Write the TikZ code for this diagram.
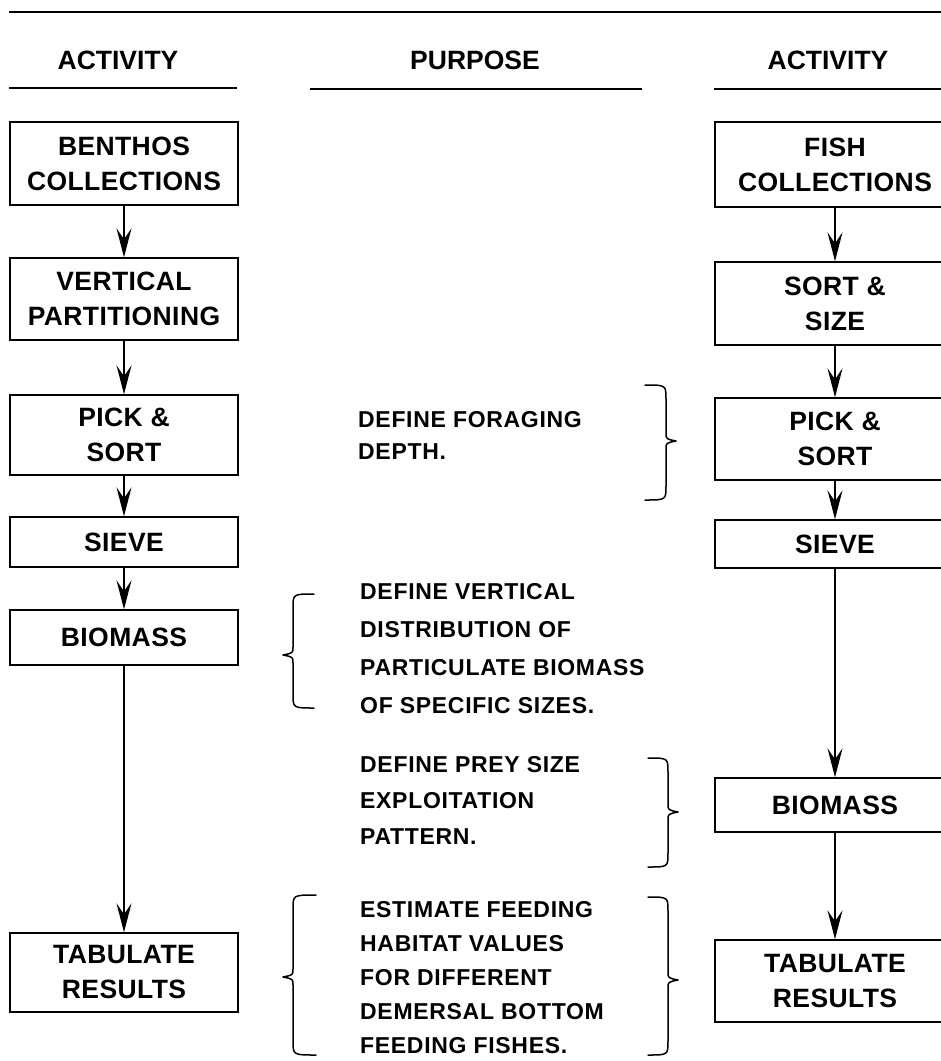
\documentclass[tikz,border=0pt]{standalone}
\usepackage{fontspec}
\setmainfont{Liberation Sans}
\newfontfamily\purposefont[LetterSpace=3]{Liberation Sans}
\newfontfamily\boxfont[LetterSpace=1.5]{Liberation Sans}
\usetikzlibrary{arrows.meta}
\newcommand\bracemark[6]{%
  \draw[brc] (#1,#4) .. controls (#2,#4) .. (#2,{#4+14}) -- (#2,{#6-8})
    .. controls (#2,{#6-2}) .. (#3,#6) .. controls (#2,{#6+2}) .. (#2,{#6+8})
    -- (#2,{#5-14}) .. controls (#2,#5) .. (#1,#5);}
\begin{document}
\begin{tikzpicture}[x=1pt,y=-1pt,
  box/.style={draw, line width=1.4pt, inner sep=0pt, align=center, font=\boxfont\bfseries\fontsize{26.5}{35}\selectfont},
  arr/.style={line width=1.4pt, -{Stealth[length=29pt,width=15pt,inset=11pt]}},
  ptext/.style={anchor=north west, align=left, inner sep=0pt, font=\purposefont\bfseries\fontsize{23}{#1}\selectfont},
  hdr/.style={anchor=base, inner sep=0pt, font=\bfseries\fontsize{26.5}{30}\selectfont},
  rule/.style={line width=1.8pt},
  brc/.style={line width=1.5pt, line cap=round, line join=round}]
\useasboundingbox (0,0) rectangle (941,1061);
\clip (0,0) rectangle (941,1061);
% top rule
\draw[line width=2.4pt] (9,12) -- (945,12);
% headers
\node[hdr] (h1) at (118,69) {ACTIVITY};
\node[hdr] (h2) at (475,69) {PURPOSE};
\node[hdr] (h3) at (828,69) {ACTIVITY};
\draw[rule] (9,88) -- (237,88);
\draw[rule] (310,89) -- (642,89);
\draw[rule] (714,89) -- (945,89);
% left column
\node[box, minimum width=228pt, minimum height=83pt] (b1) at (124,163.5) {BENTHOS\\COLLECTIONS};
\node[box, minimum width=228pt, minimum height=82pt] (b2) at (124,299) {VERTICAL\\PARTITIONING};
\node[box, minimum width=228pt, minimum height=80pt] (b3) at (124,435) {PICK \&\\SORT};
\node[box, minimum width=228pt, minimum height=50pt] (b4) at (124,542) {SIEVE};
\node[box, minimum width=228pt, minimum height=55pt] (b5) at (124,637.5) {BIOMASS};
\node[box, minimum width=228pt, minimum height=79pt] (b6) at (124,972.5) {TABULATE\\RESULTS};
\draw[arr] (b1) -- (b2);
\draw[arr] (b2) -- (b3);
\draw[arr] (b3) -- (b4);
\draw[arr] (b4) -- (b5);
\draw[arr] (b5) -- (b6);
% right column
\node[box, minimum width=240pt, minimum height=85pt] (r1) at (835,164.5) {FISH\\COLLECTIONS};
\node[box, minimum width=240pt, minimum height=83pt] (r2) at (835,303.5) {SORT \&\\SIZE};
\node[box, minimum width=240pt, minimum height=82pt] (r3) at (835,439) {PICK \&\\SORT};
\node[box, minimum width=240pt, minimum height=48pt] (r4) at (835,544) {SIEVE};
\node[box, minimum width=240pt, minimum height=54pt] (r5) at (835,805) {BIOMASS};
\node[box, minimum width=240pt, minimum height=82pt] (r6) at (835,981) {TABULATE\\RESULTS};
\draw[arr] (r1) -- (r2);
\draw[arr] (r2) -- (r3);
\draw[arr] (r3) -- (r4);
\draw[arr] (r4) -- (r5);
\draw[arr] (r5) -- (r6);
% purpose texts
\node[ptext=32] (p1) at (358,411) {DEFINE FORAGING\\DEPTH.};
\node[ptext=38] (p2) at (360,583) {DEFINE VERTICAL\\DISTRIBUTION OF\\PARTICULATE BIOMASS\\OF SPECIFIC SIZES.};
\node[ptext=36] (p3) at (360,756) {DEFINE PREY SIZE\\EXPLOITATION\\PATTERN.};
\node[ptext=34] (p4) at (360,901) {ESTIMATE FEEDING\\HABITAT VALUES\\FOR DIFFERENT\\DEMERSAL BOTTOM\\FEEDING FISHES.};
% braces
\bracemark{645}{666}{676}{385}{500}{441}
\bracemark{314}{293}{283}{594}{708}{655}
\bracemark{648}{668}{678}{758}{867}{812}
\bracemark{316}{293}{283}{895}{1055}{977}
\bracemark{648}{668}{678}{897}{1055}{980}
\end{tikzpicture}
\end{document}
